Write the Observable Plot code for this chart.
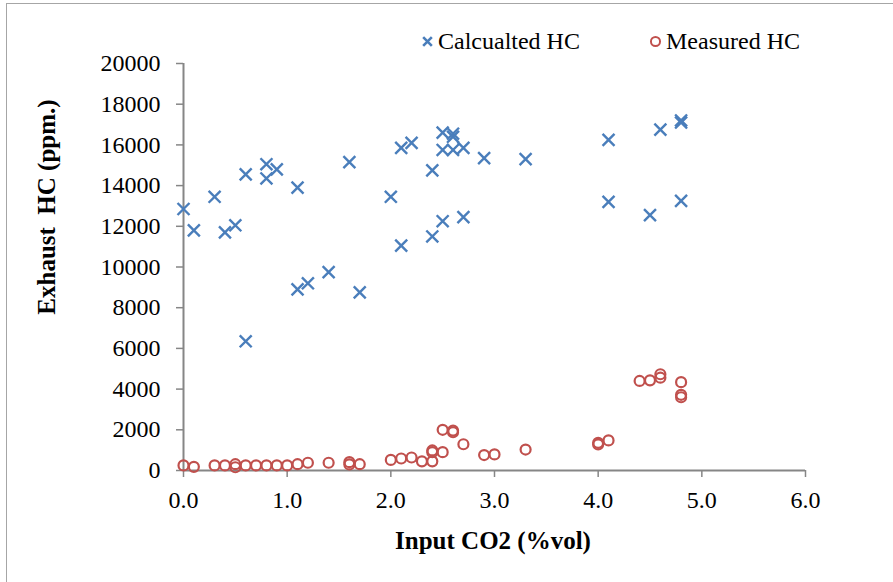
<!DOCTYPE html>
<html>
<head>
<meta charset="utf-8">
<script src="https://cdn.jsdelivr.net/npm/d3@7"></script>
<script src="https://cdn.jsdelivr.net/npm/@observablehq/plot@0.6"></script>
<style>
  html, body { margin: 0; padding: 0; background: #fff; }
  #wrap { position: relative; width: 893px; height: 582px; overflow: hidden; font-family: "Liberation Serif", "Times New Roman", serif; }
  #frame { position: absolute; left: 6px; top: 3px; width: 900px; height: 600px; border: 1px solid #a6a6a6; box-sizing: border-box; }
  #chart { position: absolute; left: 0; top: 0; }
  #chart svg, #chart svg text { font-family: "Liberation Serif", "Times New Roman", serif !important; }
  .legend { position: absolute; top: 28px; font-size: 24px; color: #000; display: flex; align-items: center; white-space: nowrap; }
  .legend svg { margin-right: 4px; }
  #xlabel { position: absolute; left: 0; width: 986px; top: 527px; text-align: center; font-size: 25px; font-weight: bold; }
  #ylabel { position: absolute; left: 47px; top: 207px; transform: translate(-50%, -50%) rotate(-90deg); font-size: 25px; font-weight: bold; white-space: pre; }
</style>
</head>
<body>
<div id="wrap">
  <div id="frame"></div>
  <div id="chart"></div>
  <div class="legend" style="left:421px"><svg width="13" height="13" viewBox="-6 -6 12 12"><path d="M-4,-4L4,4M4,-4L-4,4" stroke="#4A7EBB" stroke-width="2.4"/></svg><span>Calcualted HC</span></div>
  <div class="legend" style="left:649px"><svg width="13" height="13" viewBox="-6 -6 12 12"><circle r="4.2" fill="none" stroke="#C0504D" stroke-width="1.8"/></svg><span>Measured HC</span></div>
  <div id="xlabel">Input CO2 (%vol)</div>
  <div id="ylabel">Exhaust  HC (ppm.)</div>
</div>
<script>
// Calculated HC
const calcX = [0.0,0.1,0.3,0.4,0.5,0.6,0.6,0.8,0.8,0.9,1.1,1.1,1.2,1.4,1.6,1.7,2.0,2.1,2.1,2.2,2.4,2.4,2.5,2.5,2.5,2.6,2.6,2.6,2.7,2.7,2.9,3.3,4.1,4.1,4.5,4.6,4.8,4.8,4.8];
const calcY = [12850,11800,13450,11700,12050,14550,6350,15050,14350,14800,13900,8900,9200,9750,15150,8750,13450,11050,15850,16100,14750,11500,12250,16600,15750,16550,16400,15750,15850,12450,15350,15300,16250,13200,12550,16750,17200,17100,13250];
// Measured HC
const measX = [0.0,0.1,0.3,0.4,0.5,0.5,0.6,0.7,0.8,0.9,1.0,1.1,1.2,1.4,1.6,1.6,1.7,2.0,2.1,2.2,2.3,2.4,2.4,2.4,2.5,2.5,2.6,2.6,2.7,2.9,3.0,3.3,4.0,4.0,4.1,4.4,4.5,4.6,4.6,4.8,4.8,4.8];
const measY = [250,180,250,250,310,160,250,250,250,250,250,310,380,380,410,300,310,520,590,640,450,985,900,450,2000,900,1960,1880,1290,760,790,1030,1360,1280,1480,4400,4430,4730,4560,4340,3720,3600];
// Axis ticks
const xTicks = [0,1,2,3,4,5,6];
const yTicks = [0,2000,4000,6000,8000,10000,12000,14000,16000,18000,20000];

const calc = calcX.map((x, i) => ({x, y: calcY[i]}));
const meas = measX.map((x, i) => ({x, y: measY[i]}));

const chart = Plot.plot({
  width: 893,
  height: 582,
  marginLeft: 183,
  marginRight: 88,
  marginTop: 63,
  marginBottom: 112,
  style: "font-family: 'Liberation Serif', 'Times New Roman', serif; font-size: 24px; color: #000; background: transparent; overflow: visible;",
  x: {domain: [0, 6], label: null},
  y: {domain: [0, 20000], label: null},
  marks: [
    Plot.axisX({ticks: xTicks, tickFormat: d3.format(".1f"), tickSize: 7, tickPadding: 13, stroke: "#868686", strokeWidth: 1.5, fill: "#000", fontSize: 24, label: null}),
    Plot.axisY({ticks: yTicks, tickFormat: d => String(d), tickSize: 7, tickPadding: 16, stroke: "#868686", strokeWidth: 1.5, fill: "#000", fontSize: 24, label: null}),
    Plot.ruleX([0], {stroke: "#868686", strokeWidth: 2}),
    Plot.ruleY([0], {stroke: "#868686", strokeWidth: 2}),
    Plot.dot(meas, {x: "x", y: "y", r: 5, stroke: "#C0504D", strokeWidth: 2.2, fill: "none", symbol: "circle"}),
    Plot.dot(calc, {x: "x", y: "y", r: 5.5, stroke: "#4A7EBB", strokeWidth: 2.4, symbol: "times"})
  ]
});
document.getElementById("chart").appendChild(chart);
</script>
</body>
</html>
